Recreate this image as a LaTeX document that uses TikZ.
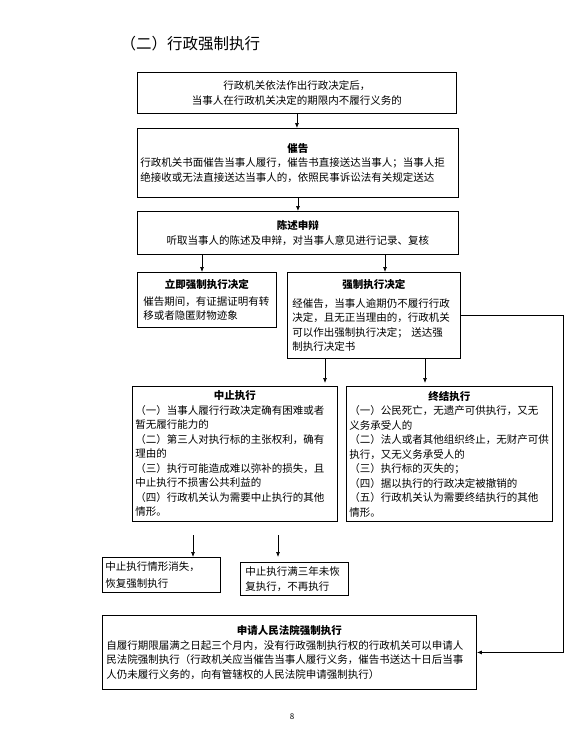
\documentclass[tikz,border=0pt]{standalone}
\usepackage{fontspec}
\setmainfont{Noto Sans CJK SC}
\usetikzlibrary{arrows.meta}

\begin{document}
\begin{tikzpicture}[x=1pt,y=-1pt,box/.style={draw,line width=0.9pt,anchor=north west,inner xsep=3pt,inner ysep=0pt,font=\fontsize{10.5}{14.5}\selectfont},arr/.style={-{Latex[length=5pt,width=4pt]},line width=0.7pt}]
\useasboundingbox[fill=white] (0,0) rectangle (586,747);
\node[anchor=west,font=\fontsize{15.5}{18}\selectfont] (title) at (117,44) {（二）行政强制执行};
\node[box,minimum width=319pt,minimum height=41pt,text width=313pt,align=center] (notice) at (137,72) {行政机关依法作出行政决定后，\\当事人在行政机关决定的期限内不履行义务的};
\node[box,minimum width=321pt,minimum height=69pt,text width=315pt,align=left] (urge) at (137,128) {\makebox[\linewidth]{\bfseries 催告}\\行政机关书面催告当事人履行，催告书直接送达当事人；当事人拒\\绝接收或无法直接送达当事人的，依照民事诉讼法有关规定送达\\[4pt]};
\node[box,minimum width=321pt,minimum height=43pt,text width=315pt,align=center] (defend) at (137,211) {\textbf{陈述申辩}\\听取当事人的陈述及申辩，对当事人意见进行记录、复核};
\node[box,minimum width=139pt,minimum height=55pt,text width=127pt,inner xsep=6pt,align=left] (immediate) at (137,272) {\makebox[\linewidth]{\bfseries 立即强制执行决定}\\[2pt]催告期间，有证据证明有转\\移或者隐匿财物迹象};
\node[box,minimum width=173pt,minimum height=86pt,text width=163pt,inner xsep=5pt,align=left] (decide) at (287,272) {\makebox[\linewidth]{\bfseries 强制执行决定}\\[4pt]经催告，当事人逾期仍不履行行政\\决定，且无正当理由的，行政机关\\可以作出强制执行决定； 送达强\\制执行决定书};
\node[box,minimum width=205pt,minimum height=135pt,text width=199pt,align=left] (suspend) at (132,386) {\makebox[\linewidth]{\bfseries 中止执行}\\（一）当事人履行行政决定确有困难或者\\暂无履行能力的\\（二）第三人对执行标的主张权利，确有\\理由的\\（三）执行可能造成难以弥补的损失，且\\中止执行不损害公共利益的\\（四）行政机关认为需要中止执行的其他\\情形。};
\node[box,minimum width=206pt,minimum height=135pt,text width=200pt,align=left] (terminate) at (346,386) {\makebox[\linewidth]{\bfseries 终结执行}\\（一）公民死亡，无遗产可供执行，又无\\义务承受人的\\（二）法人或者其他组织终止，无财产可供\\执行，又无义务承受人的\\（三）执行标的灭失的；\\（四）据以执行的行政决定被撤销的\\（五）行政机关认为需要终结执行的其他\\情形。};
\node[box,minimum width=118pt,minimum height=35pt,text width=112pt,align=left] (resume) at (102,557) {中止执行情形消失，\\[2pt]恢复强制执行};
\node[box,minimum width=108pt,minimum height=33pt,text width=98pt,inner xsep=5pt,align=left] (stop) at (240,562) {中止执行满三年未恢\\复执行，不再执行};
\node[box,minimum width=374pt,minimum height=74pt,text width=366pt,inner xsep=4pt,align=left] (court) at (102,615) {\makebox[\linewidth]{\bfseries 申请人民法院强制执行}\\自履行期限届满之日起三个月内，没有行政强制执行权的行政机关可以申请人\\民法院强制执行（行政机关应当催告当事人履行义务，催告书送达十日后当事\\人仍未履行义务的，向有管辖权的人民法院申请强制执行）\\[3pt]};
\node[font=\fontsize{8}{10}\selectfont] (page) at (292,717) {8};
\coordinate (xa) at (202,0);
\coordinate (xb) at (385,0);
\coordinate (xc) at (325,0);
\coordinate (xd) at (425,0);
\coordinate (xe) at (563,0);
\coordinate (xf) at (193,535);
\coordinate (xg) at (278,535);
\draw[arr] (notice.south)--(notice.south |- urge.north);
\draw[arr] (urge.south)--(urge.south |- defend.north);
\draw[arr] (defend.south -| xa)--(immediate.north -| xa);
\draw[arr] (defend.south -| xb)--(decide.north -| xb);
\draw[arr,shorten >=3pt] (decide.south -| xc)--(suspend.north -| xc);
\draw[arr,shorten >=3pt] (decide.south -| xd)--(terminate.north -| xd);
\draw[arr] (decide.east)--(decide.east -| xe) |- (court.east);
\draw[arr] (xf)--(xf |- resume.north);
\draw[arr,shorten >=5pt] (xg)--(xg |- stop.north);
\end{tikzpicture}
\end{document}
